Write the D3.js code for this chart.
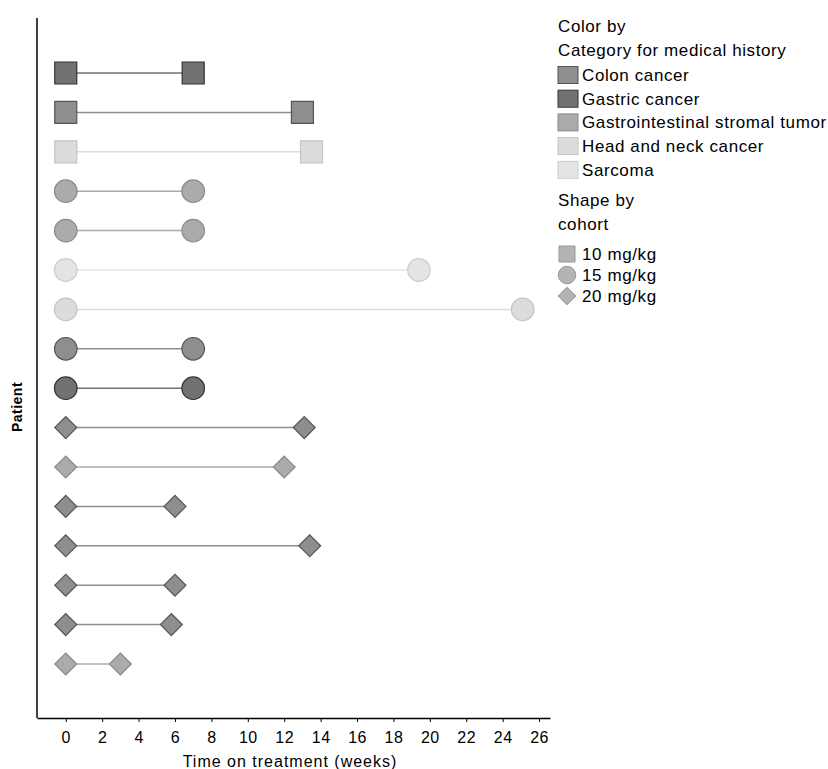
<!DOCTYPE html>
<html><head><meta charset="utf-8">
<script src="https://cdn.jsdelivr.net/npm/d3@7"></script>
<style>body{margin:0;background:#fff;} text{font-family:"Liberation Sans",Arial,sans-serif;}</style>
</head><body>
<svg id="chart" width="828" height="769"></svg>
<script>
const patients = ["P1","P2","P3","P4","P5","P6","P7","P8","P9","P10","P11","P12","P13","P14","P15","P16"];
const startWeeks = [0,0,0,0,0,0,0,0,0,0,0,0,0,0,0,0];
const endWeeks = [7,13,13.5,7,7,19.4,25.1,7,7,13.1,12,6,13.4,6,5.8,3];
const history = ["Gastric cancer","Colon cancer","Head and neck cancer","Gastrointestinal stromal tumor","Gastrointestinal stromal tumor","Sarcoma","Head and neck cancer","Colon cancer","Gastric cancer","Colon cancer","Gastrointestinal stromal tumor","Colon cancer","Colon cancer","Colon cancer","Colon cancer","Gastrointestinal stromal tumor"];
const cohort = ["10 mg/kg","10 mg/kg","10 mg/kg","15 mg/kg","15 mg/kg","15 mg/kg","15 mg/kg","15 mg/kg","15 mg/kg","20 mg/kg","20 mg/kg","20 mg/kg","20 mg/kg","20 mg/kg","20 mg/kg","20 mg/kg"];
const categories = ["Colon cancer","Gastric cancer","Gastrointestinal stromal tumor","Head and neck cancer","Sarcoma"];
const cohorts = ["10 mg/kg","15 mg/kg","20 mg/kg"];
const xTicks = [0,2,4,6,8,10,12,14,16,18,20,22,24,26];

const fillColors = ["#8e8e8e","#727272","#ababab","#dcdcdc","#e4e4e4"];
const strokeColors = ["#555555","#333333","#8a8a8a","#c4c4c4","#cccccc"];

const svg = d3.select("#chart");
const x = d3.scaleLinear().domain([-1.58, 26.6]).range([37, 550]);
const y = d3.scalePoint().domain(patients).range([73, 664]);
const fill = d3.scaleOrdinal().domain(categories).range(fillColors);
const stroke = d3.scaleOrdinal().domain(categories).range(strokeColors);
const shapeType = d3.scaleOrdinal().domain(cohorts).range([d3.symbolSquare, d3.symbolCircle, d3.symbolSquare]);
const shapeSize = d3.scaleOrdinal().domain(cohorts).range([484, 400, 240]);
const shapeRot = d3.scaleOrdinal().domain(cohorts).range([0, 0, 45]);

const rows = patients.map((p,i)=>({p, s:startWeeks[i], e:endWeeks[i], h:history[i], c:cohort[i]}));

// lines
svg.append("g").selectAll("line").data(rows).join("line")
  .attr("x1", d=>x(d.s)).attr("x2", d=>x(d.e))
  .attr("y1", d=>y(d.p)).attr("y2", d=>y(d.p))
  .attr("stroke", d=>fill(d.h)).attr("stroke-width", 1.5);

// markers
const pts = rows.flatMap(d=>[{...d, v:d.s},{...d, v:d.e}]);
svg.append("g").selectAll("path").data(pts).join("path")
  .attr("d", d=>d3.symbol().type(shapeType(d.c)).size(shapeSize(d.c))())
  .attr("transform", d=>`translate(${x(d.v)},${y(d.p)}) rotate(${shapeRot(d.c)})`)
  .attr("fill", d=>fill(d.h)).attr("stroke", d=>stroke(d.h)).attr("stroke-width", 1.2);

// axes
svg.append("line").attr("x1",37).attr("x2",37).attr("y1",18).attr("y2",718).attr("stroke","#000").attr("stroke-width",1.5);
const xAxis = svg.append("g").attr("transform","translate(0,718)")
  .call(d3.axisBottom(x).tickValues(xTicks).tickSize(4).tickSizeOuter(0));
xAxis.attr("font-size",16);
xAxis.select(".domain").attr("stroke","#000").attr("stroke-width",1.5);
xAxis.selectAll("text").attr("font-size",16).attr("fill","#000").attr("dy","1.15em")
  .style("font-family","Liberation Sans, Arial, sans-serif").style("letter-spacing","0.5px");

svg.append("text").attr("x",290).attr("y",767).attr("text-anchor","middle").attr("font-size",16)
  .style("letter-spacing","1px").text("Time on treatment (weeks)");
svg.append("text").attr("transform","translate(22,407) rotate(-90)").attr("text-anchor","middle")
  .attr("font-size",14).attr("font-weight","bold").style("letter-spacing","0.5px").text("Patient");

// legend
const lg = svg.append("g").style("letter-spacing","0.6px");
lg.append("text").attr("x",558).attr("y",32).attr("font-size",17).text("Color by");
lg.append("text").attr("x",558).attr("y",56).attr("font-size",17).text("Category for medical history");
categories.forEach((c,i)=>{
  const cy = 75 + i*23.7;
  lg.append("rect").attr("x",558).attr("y",cy-8.5).attr("width",20).attr("height",17)
    .attr("fill",fill(c)).attr("stroke",stroke(c)).attr("stroke-width",1);
  lg.append("text").attr("x",582).attr("y",cy+6).attr("font-size",17).text(c);
});
lg.append("text").attr("x",558).attr("y",206).attr("font-size",17).text("Shape by");
lg.append("text").attr("x",558).attr("y",230).attr("font-size",17).text("cohort");
cohorts.forEach((c,i)=>{
  const cy = 254 + i*21;
  lg.append("path").attr("d", d3.symbol().type(shapeType(c)).size([256,240,150][i])())
    .attr("transform",`translate(567,${cy}) rotate(${shapeRot(c)})`)
    .attr("fill","#b4b4b4").attr("stroke","#999").attr("stroke-width",1);
  lg.append("text").attr("x",582).attr("y",cy+6).attr("font-size",17).text(c);
});
</script>
</body></html>
